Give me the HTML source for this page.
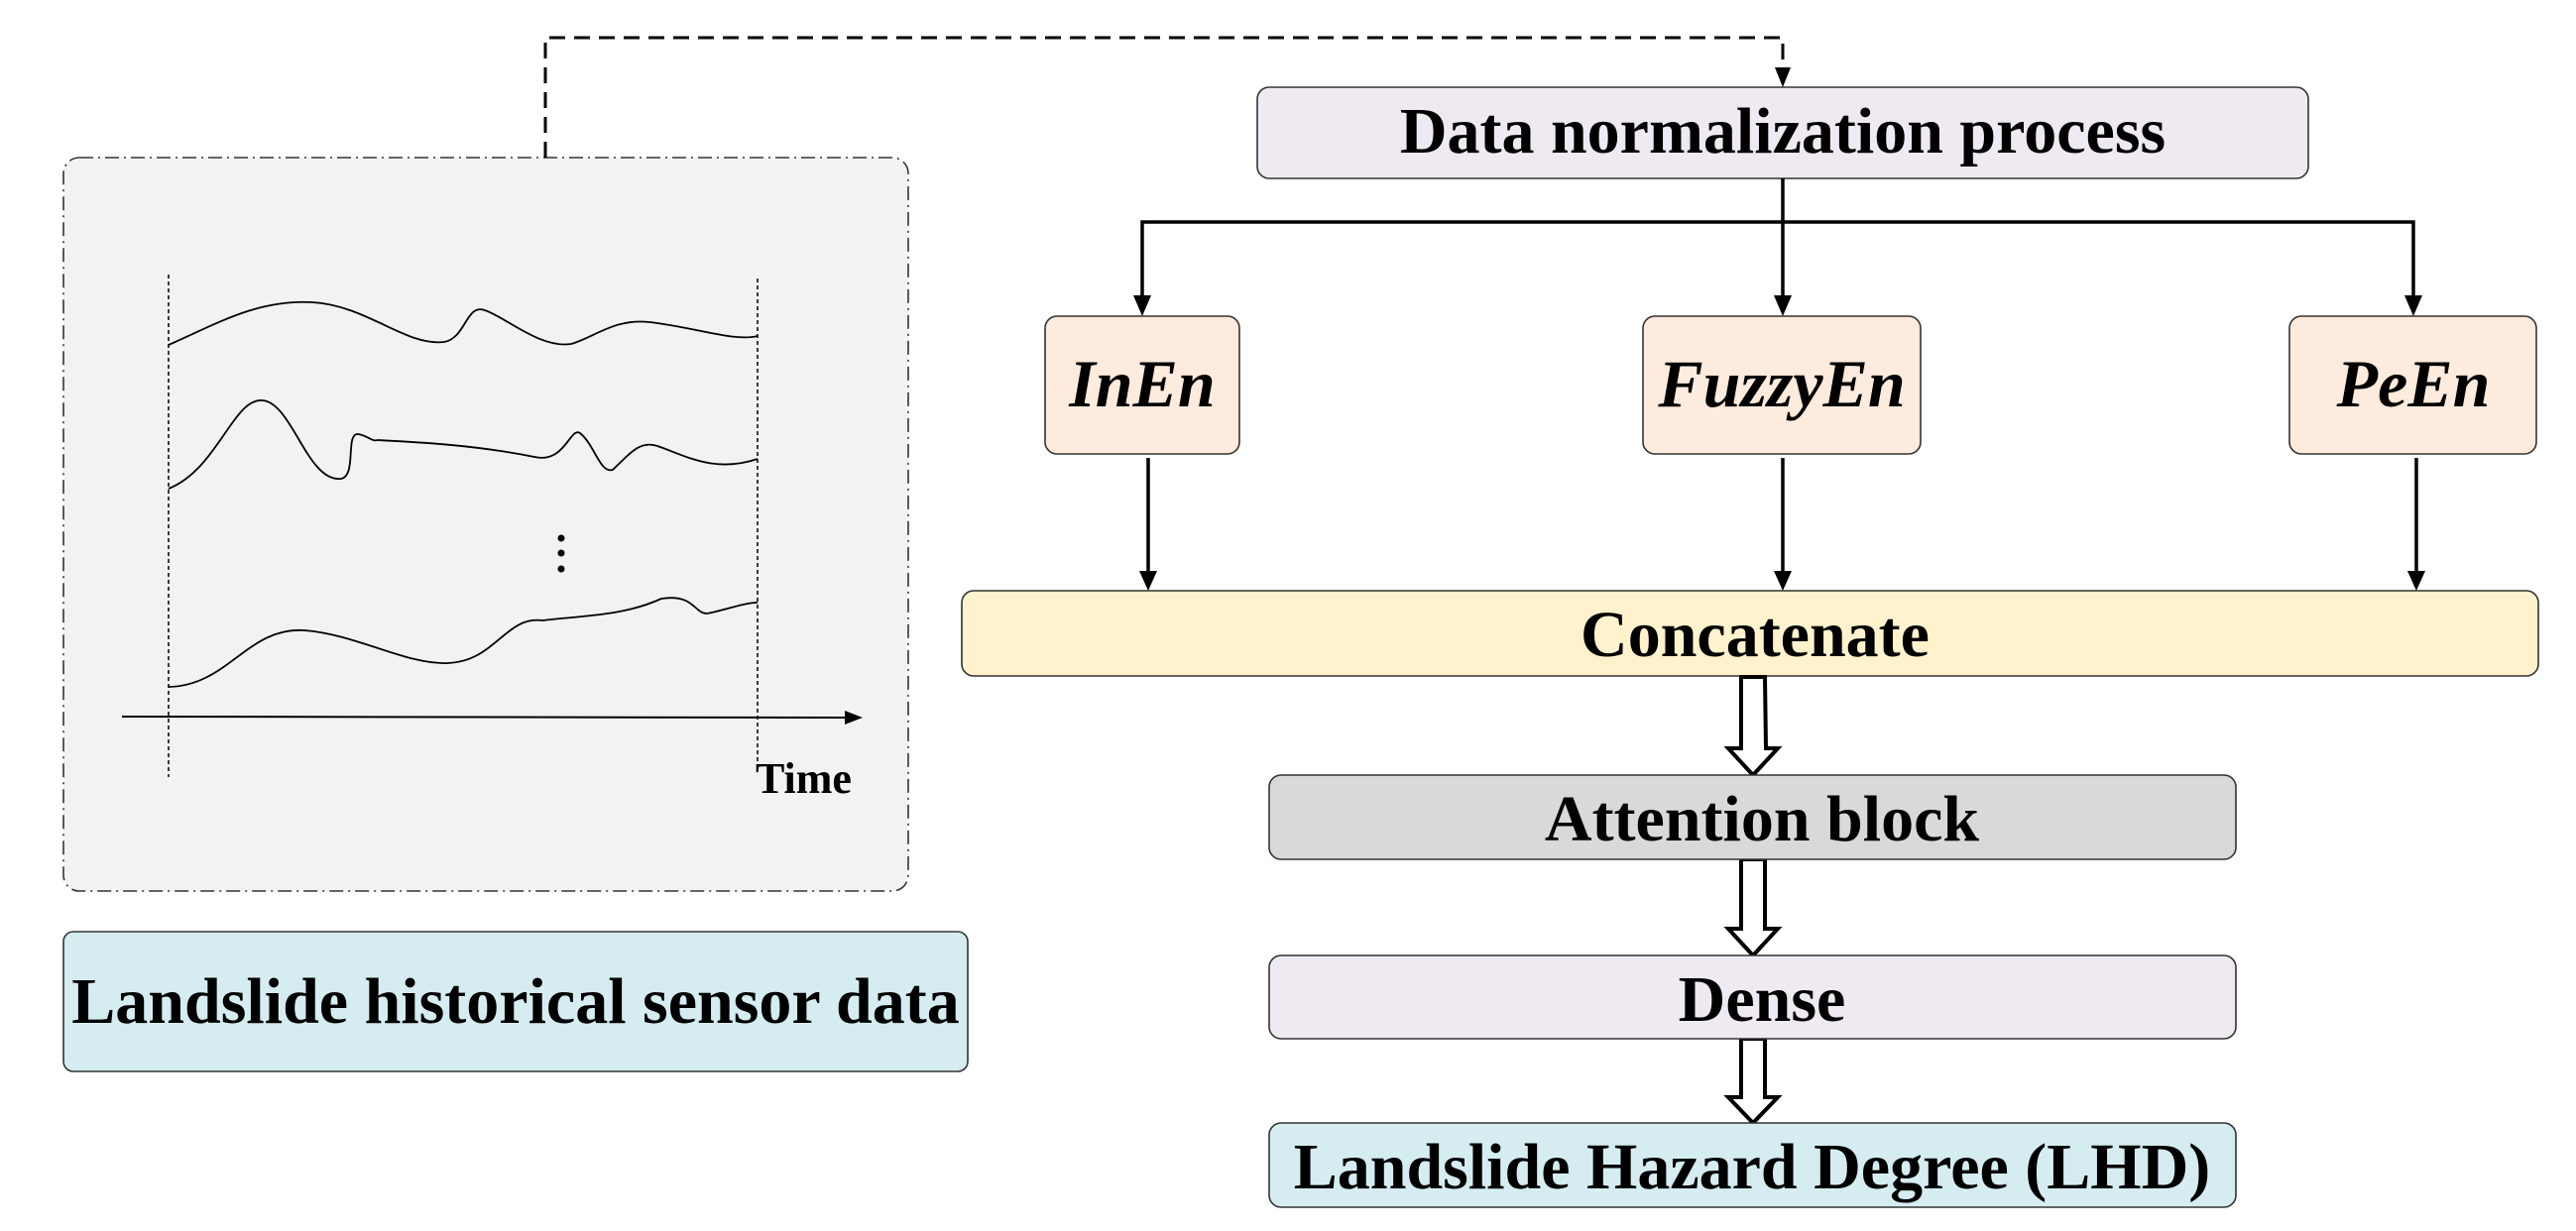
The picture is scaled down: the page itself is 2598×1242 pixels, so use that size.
<!DOCTYPE html>
<html><head><meta charset="utf-8"><style>
html,body{margin:0;padding:0;background:#fff;}
svg{display:block;}
text{font-family:"Liberation Serif",serif;font-weight:bold;fill:#000;}
</style></head><body>
<svg width="2598" height="1242" viewBox="0 0 2598 1242" xmlns="http://www.w3.org/2000/svg">
<!-- dashed chart box -->
<rect x="64" y="159" width="852" height="740" rx="16" fill="#f2f2f2" stroke="#333" stroke-width="1.6" stroke-dasharray="14,5,2,5"/>
<!-- dashed connector -->
<polyline points="550,159 550,38 1798,38 1798,70" fill="none" stroke="#000" stroke-width="3" stroke-dasharray="16,9"/>
<polygon points="1790,68 1806,68 1798,88" fill="#000"/>
<!-- chart -->
<line x1="170" y1="277" x2="170" y2="784" stroke="#000" stroke-width="1.5" stroke-dasharray="4,3"/>
<line x1="764" y1="281" x2="764" y2="770" stroke="#000" stroke-width="1.5" stroke-dasharray="4,3"/>
<line x1="123" y1="723" x2="855" y2="724" stroke="#000" stroke-width="2"/>
<polygon points="852,717 870,724 852,731" fill="#000"/>
<path d="M170,348 C220,326 260,302 315,305 C370,308 410,350 448,345 C470,341 470,306 489,313 C510,320 545,352 576,347 C600,340 620,321 655,325 C700,330 740,345 764,339" fill="none" stroke="#000" stroke-width="1.8"/>
<path d="M170,493 C220,473 235,401 265,404 C295,407 310,487 344,483 C360,480 348,437 361,438 C370,439 375,446 381,444 C420,446 480,449 539,461 C570,468 575,430 585,437 C600,449 605,478 618,474 C635,458 645,444 663,450 C690,459 720,478 764,463" fill="none" stroke="#000" stroke-width="1.8"/>
<circle cx="566" cy="543" r="3.5" fill="#000"/>
<circle cx="566" cy="558" r="3.5" fill="#000"/>
<circle cx="566" cy="574" r="3.5" fill="#000"/>
<path d="M170,693 C230,692 250,632 307,636 C360,640 410,671 452,669 C500,667 510,621 547,626 C590,621 630,621 667,604 C700,599 700,619 713,619 C730,616 750,608 764,608" fill="none" stroke="#000" stroke-width="1.8"/>
<text x="762" y="800" font-size="44">Time</text>
<!-- landslide data box -->
<rect x="64" y="940" width="912" height="141" rx="10" fill="#d5edf1" stroke="#333" stroke-width="1.6"/>
<text x="520" y="1032" font-size="66" text-anchor="middle">Landslide historical sensor data</text>
<!-- data normalization -->
<rect x="1268" y="88" width="1060" height="92" rx="12" fill="#efeaf2" stroke="#333" stroke-width="1.6"/>
<text x="1798" y="154" font-size="66" text-anchor="middle">Data normalization process</text>
<!-- branch -->
<line x1="1798" y1="180" x2="1798" y2="305" stroke="#000" stroke-width="3.5"/>
<polyline points="1152,305 1152,224 2434,224 2434,305" fill="none" stroke="#000" stroke-width="3.5"/>
<polygon points="1143,298 1161,298 1152,319" fill="#000"/>
<polygon points="1789,298 1807,298 1798,319" fill="#000"/>
<polygon points="2425,298 2443,298 2434,319" fill="#000"/>
<!-- entropy boxes -->
<rect x="1054" y="319" width="196" height="139" rx="12" fill="#fdebdd" stroke="#333" stroke-width="1.6"/>
<text x="1152" y="410" font-size="68" font-style="italic" text-anchor="middle">InEn</text>
<rect x="1657" y="319" width="280" height="139" rx="12" fill="#fdebdd" stroke="#333" stroke-width="1.6"/>
<text x="1797" y="410" font-size="68" font-style="italic" text-anchor="middle">FuzzyEn</text>
<rect x="2309" y="319" width="249" height="139" rx="12" fill="#fdebdd" stroke="#333" stroke-width="1.6"/>
<text x="2434" y="410" font-size="68" font-style="italic" text-anchor="middle">PeEn</text>
<!-- down arrows -->
<line x1="1158" y1="462" x2="1158" y2="580" stroke="#000" stroke-width="3.5"/>
<polygon points="1149,576 1167,576 1158,596" fill="#000"/>
<line x1="1798" y1="462" x2="1798" y2="580" stroke="#000" stroke-width="3.5"/>
<polygon points="1789,576 1807,576 1798,596" fill="#000"/>
<line x1="2437" y1="462" x2="2437" y2="580" stroke="#000" stroke-width="3.5"/>
<polygon points="2428,576 2446,576 2437,596" fill="#000"/>
<!-- concatenate -->
<rect x="970" y="596" width="1590" height="86" rx="12" fill="#fff2cc" stroke="#333" stroke-width="1.6"/>
<text x="1770" y="662" font-size="66" text-anchor="middle">Concatenate</text>
<!-- hollow arrows -->
<path d="M1756,683 L1780,683 L1781,755 L1793,755 L1768,782 L1743,755 L1756,755 Z" fill="#fff" stroke="#000" stroke-width="4"/>
<path d="M1756,867 L1780,867 L1780,937 L1793,937 L1768,964 L1743,937 L1756,937 Z" fill="#fff" stroke="#000" stroke-width="4"/>
<path d="M1756,1048 L1780,1048 L1780,1107 L1793,1107 L1768,1133 L1743,1107 L1756,1107 Z" fill="#fff" stroke="#000" stroke-width="4"/>
<!-- attention -->
<rect x="1280" y="782" width="975" height="85" rx="12" fill="#d9d9d9" stroke="#333" stroke-width="1.6"/>
<text x="1777" y="848" font-size="66" text-anchor="middle">Attention block</text>
<!-- dense -->
<rect x="1280" y="964" width="975" height="84" rx="12" fill="#efeaf2" stroke="#333" stroke-width="1.6"/>
<text x="1777" y="1030" font-size="66" text-anchor="middle">Dense</text>
<!-- LHD -->
<rect x="1280" y="1133" width="975" height="85" rx="12" fill="#d5edf1" stroke="#333" stroke-width="1.6"/>
<text x="1767" y="1199" font-size="66" text-anchor="middle">Landslide Hazard Degree (LHD)</text>
</svg>
</body></html>
